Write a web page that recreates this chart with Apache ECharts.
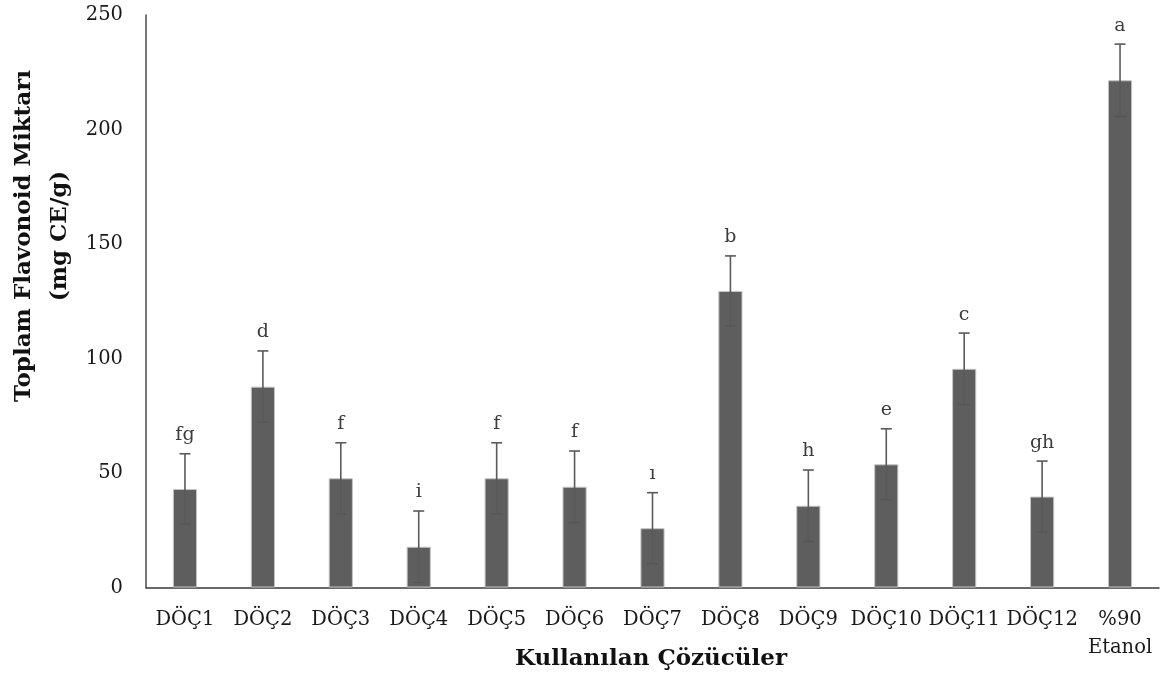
<!DOCTYPE html>
<html>
<head>
<meta charset="utf-8">
<script src="https://cdn.jsdelivr.net/npm/echarts@6/dist/echarts.min.js"></script>
<style>
  html, body { margin: 0; padding: 0; background: #fff; }
  #chart { width: 1161px; height: 678px; }
</style>
</head>
<body>
<div id="chart"></div>
<script>
// Solvents tested
const categories = ['DÖÇ1', 'DÖÇ2', 'DÖÇ3', 'DÖÇ4', 'DÖÇ5', 'DÖÇ6', 'DÖÇ7', 'DÖÇ8', 'DÖÇ9', 'DÖÇ10', 'DÖÇ11', 'DÖÇ12', '%90\nEtanol'];
// Total flavonoid content (mg CE/g)
const values = [43.0, 87.7, 47.7, 17.8, 47.7, 44.0, 25.9, 129.5, 35.7, 53.8, 95.5, 39.7, 221.5];
// Standard deviation
const errors = [15.4, 15.6, 15.5, 15.6, 15.5, 15.6, 15.5, 15.3, 15.6, 15.5, 15.6, 15.5, 15.8];
// Significance letters
const letters = ['fg', 'd', 'f', 'i', 'f', 'f', 'ı', 'b', 'h', 'e', 'c', 'gh', 'a'];
// Y axis ticks
const yTicks = [0, 50, 100, 150, 200, 250];

const serif = '"DejaVu Serif", serif';
const chart = echarts.init(document.getElementById('chart'));

chart.setOption({
  backgroundColor: '#ffffff',
  animation: false,
  grid: { left: 146, right: 2, top: 15, bottom: 90.5, containLabel: false, outerBoundsMode: 'none' },
  graphic: [
    {
      // Y axis title, two lines, rotated
      type: 'text',
      x: 42,
      y: 236,
      rotation: Math.PI / 2,
      style: {
        text: 'Toplam Flavonoid Miktarı\n(mg CE/g)',
        fill: '#111111',
        font: 'bold 23px ' + serif,
        lineHeight: 36,
        align: 'center',
        verticalAlign: 'middle'
      }
    },
    {
      // X axis title
      type: 'text',
      x: 651,
      y: 659,
      style: {
        text: 'Kullanılan Çözücüler',
        fill: '#111111',
        font: 'bold 23px ' + serif,
        align: 'center',
        verticalAlign: 'middle'
      }
    }
  ],
  xAxis: {
    type: 'category',
    data: categories,
    axisLine: { show: true, lineStyle: { color: '#3a3a3a', width: 1.5 } },
    axisTick: { show: false },
    axisLabel: { color: '#1a1a1a', fontFamily: serif, fontSize: 19.5, margin: 18, lineHeight: 28, interval: 0 }
  },
  yAxis: {
    type: 'value',
    min: yTicks[0],
    max: yTicks[yTicks.length - 1],
    interval: 50,
    axisLine: { show: true, lineStyle: { color: '#4a4a4a', width: 1.5 } },
    axisTick: { show: false },
    splitLine: { show: false },
    axisLabel: { color: '#1a1a1a', fontFamily: serif, fontSize: 19.5, margin: 23 }
  },
  series: [
    {
      type: 'bar',
      data: values,
      barWidth: '31%',
      itemStyle: { color: '#5e5e5e', borderColor: '#c4c4c4', borderWidth: 1 }
    },
    {
      // error bars with significance letters
      type: 'custom',
      data: values.map((v, i) => [i, v, errors[i]]),
      z: 10,
      renderItem: function (params, api) {
        const i = api.value(0);
        const v = api.value(1);
        const e = api.value(2);
        const top = api.coord([i, v + e]);
        const bot = api.coord([i, v - e]);
        const cap = 5.5;
        const style = { stroke: '#5a5a5a', lineWidth: 1.6 };
        return {
          type: 'group',
          children: [
            { type: 'line', shape: { x1: top[0], y1: top[1], x2: bot[0], y2: bot[1] }, style },
            { type: 'line', shape: { x1: top[0] - cap, y1: top[1], x2: top[0] + cap, y2: top[1] }, style },
            { type: 'line', shape: { x1: bot[0] - cap, y1: bot[1], x2: bot[0] + cap, y2: bot[1] }, style: { stroke: '#555555', lineWidth: 1.2 } },
            {
              type: 'text',
              x: top[0],
              y: top[1] - 9,
              style: {
                text: letters[params.dataIndex],
                fill: '#3c3c3c',
                font: '19px ' + serif,
                align: 'center',
                verticalAlign: 'bottom'
              }
            }
          ]
        };
      }
    }
  ]
});
</script>
</body>
</html>
